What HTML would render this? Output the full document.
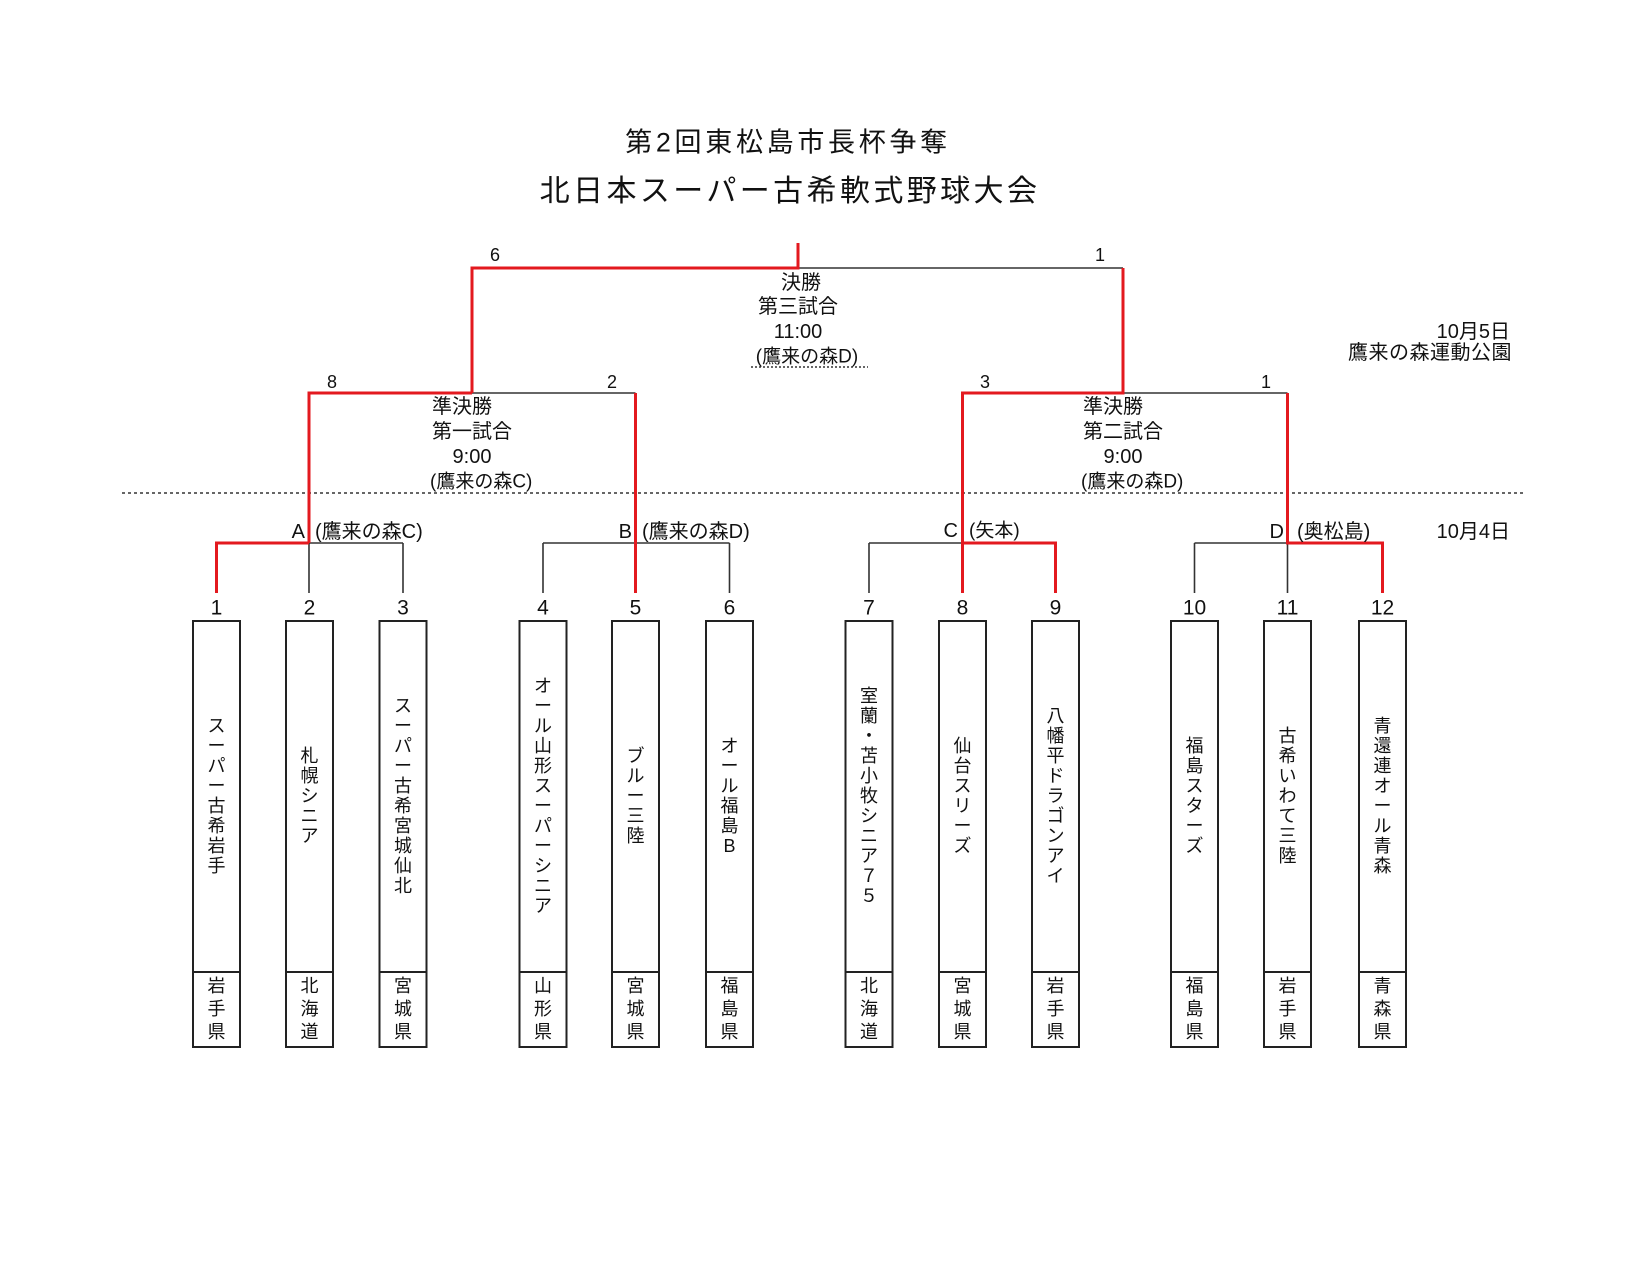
<!DOCTYPE html>
<html><head><meta charset="utf-8">
<style>
html,body{margin:0;padding:0;background:#fff;}
#pg{position:relative;width:1650px;height:1275px;background:#fff;overflow:hidden;font-family:"Liberation Sans","Noto Sans CJK JP",sans-serif;color:#111;}
.t{position:absolute;white-space:nowrap;line-height:1;transform:translate(-50%,-50%);}
.l{position:absolute;white-space:nowrap;line-height:1;transform:translateY(-50%);}
.r{position:absolute;white-space:nowrap;line-height:1;transform:translate(-100%,-50%);}
.v{position:absolute;width:47px;text-align:center;font-size:18px;line-height:20px;}
.p{position:absolute;width:47px;text-align:center;font-size:18px;line-height:23px;top:975px;}
.n{font-size:21px;}
.s{font-size:18px;}
.m{font-size:20px;}
svg{position:absolute;left:0;top:0;}
</style></head><body>
<div id="pg">
<svg width="1650" height="1275" viewBox="0 0 1650 1275">
 <g fill="none" stroke="#333" stroke-width="1.6">
  <path d="M798 268 H1123"/>
  <path d="M472 393 H635.5"/>
  <path d="M1123 393 H1287.5"/>
  <path d="M309 543 H403 M309 543 V593 M403 543 V593"/>
  <path d="M543 543 H729.5 M543 543 V593 M729.5 543 V593"/>
  <path d="M869 543 H962.5 M869 543 V593"/>
  <path d="M1194.5 543 H1287.5 M1194.5 543 V593 M1287.5 543 V593"/>
  <path d="M122 493 H1523" stroke-dasharray="3 3" stroke-width="1.5"/>
  <path d="M751 367 H868" stroke-dasharray="2 2" stroke-width="1.5"/>
 </g>
 <g fill="none" stroke="#e3191f" stroke-width="3">
  <path d="M798 243 V268 H472 V393"/>
  <path d="M309 543 V393 H472"/>
  <path d="M635.5 393 V593"/>
  <path d="M216.5 593 V543 H309"/>
  <path d="M1123 268 V393 H962.5 V593"/>
  <path d="M962.5 543 H1055.5 V593"/>
  <path d="M1287.5 393 V543 H1382.5 V593"/>
 </g>
 <g fill="none" stroke="#222" stroke-width="2">
  <rect x="193" y="621" width="47" height="426"/><path d="M193 972 H240"/>
  <rect x="286" y="621" width="47" height="426"/><path d="M286 972 H333"/>
  <rect x="379.5" y="621" width="47" height="426"/><path d="M379.5 972 H426.5"/>
  <rect x="519.5" y="621" width="47" height="426"/><path d="M519.5 972 H566.5"/>
  <rect x="612" y="621" width="47" height="426"/><path d="M612 972 H659"/>
  <rect x="706" y="621" width="47" height="426"/><path d="M706 972 H753"/>
  <rect x="845.5" y="621" width="47" height="426"/><path d="M845.5 972 H892.5"/>
  <rect x="939" y="621" width="47" height="426"/><path d="M939 972 H986"/>
  <rect x="1032" y="621" width="47" height="426"/><path d="M1032 972 H1079"/>
  <rect x="1171" y="621" width="47" height="426"/><path d="M1171 972 H1218"/>
  <rect x="1264" y="621" width="47" height="426"/><path d="M1264 972 H1311"/>
  <rect x="1359" y="621" width="47" height="426"/><path d="M1359 972 H1406"/>
 </g>
</svg>

<!-- Titles -->
<div class="t" style="left:788px;top:143px;font-size:27px;letter-spacing:3.7px;">第2回東松島市長杯争奪</div>
<div class="t" style="left:790px;top:192px;font-size:30px;letter-spacing:3.4px;">北日本スーパー古希軟式野球大会</div>

<!-- Final -->
<div class="t s" style="left:495px;top:255px;">6</div>
<div class="t s" style="left:1100px;top:255px;">1</div>
<div class="t m" style="left:801px;top:283px;">決勝</div>
<div class="t m" style="left:798px;top:307px;">第三試合</div>
<div class="t m" style="left:798px;top:332px;">11:00</div>
<div class="t" style="left:807px;top:357px;font-size:19px;">(鷹来の森D)</div>

<div class="r m" style="left:1510px;top:332px;">10月5日</div>
<div class="r m" style="left:1512px;top:353px;letter-spacing:0.5px;">鷹来の森運動公園</div>

<!-- Semifinal left -->
<div class="t s" style="left:332px;top:382px;">8</div>
<div class="t s" style="left:612px;top:382px;">2</div>
<div class="l m" style="left:432px;top:407px;">準決勝</div>
<div class="l m" style="left:432px;top:432px;">第一試合</div>
<div class="t m" style="left:472px;top:457px;">9:00</div>
<div class="l" style="left:430px;top:482px;font-size:19px;">(鷹来の森C)</div>

<!-- Semifinal right -->
<div class="t s" style="left:985px;top:382px;">3</div>
<div class="t s" style="left:1266px;top:382px;">1</div>
<div class="l m" style="left:1083px;top:407px;">準決勝</div>
<div class="l m" style="left:1083px;top:432px;">第二試合</div>
<div class="t m" style="left:1123px;top:457px;">9:00</div>
<div class="l" style="left:1081px;top:482px;font-size:19px;">(鷹来の森D)</div>

<!-- Group labels -->
<div class="r m" style="left:305px;top:532px;">A</div>
<div class="l m" style="left:315px;top:532px;">(鷹来の森C)</div>
<div class="r m" style="left:632px;top:532px;">B</div>
<div class="l m" style="left:642px;top:532px;">(鷹来の森D)</div>
<div class="r m" style="left:958px;top:531px;">C</div>
<div class="l" style="left:969px;top:531px;font-size:19px;">(矢本)</div>
<div class="r m" style="left:1284px;top:532px;">D</div>
<div class="l m" style="left:1297px;top:532px;">(奥松島)</div>
<div class="r m" style="left:1510px;top:532px;">10月4日</div>

<!-- Numbers -->
<div class="t n" style="left:216.5px;top:608px;">1</div>
<div class="t n" style="left:309.5px;top:608px;">2</div>
<div class="t n" style="left:403px;top:608px;">3</div>
<div class="t n" style="left:543px;top:608px;">4</div>
<div class="t n" style="left:635.5px;top:608px;">5</div>
<div class="t n" style="left:729.5px;top:608px;">6</div>
<div class="t n" style="left:869px;top:608px;">7</div>
<div class="t n" style="left:962.5px;top:608px;">8</div>
<div class="t n" style="left:1055.5px;top:608px;">9</div>
<div class="t n" style="left:1194.5px;top:608px;">10</div>
<div class="t n" style="left:1287.5px;top:608px;">11</div>
<div class="t n" style="left:1382.5px;top:608px;">12</div>

<!-- Team names -->
<div class="v" style="left:193px;top:716px;">ス<br>ー<br>パ<br>ー<br>古<br>希<br>岩<br>手</div>
<div class="v" style="left:286px;top:746px;">札<br>幌<br>シ<br>ニ<br>ア</div>
<div class="v" style="left:379.5px;top:696px;">ス<br>ー<br>パ<br>ー<br>古<br>希<br>宮<br>城<br>仙<br>北</div>
<div class="v" style="left:519.5px;top:676px;">オ<br>ー<br>ル<br>山<br>形<br>ス<br>ー<br>パ<br>ー<br>シ<br>ニ<br>ア</div>
<div class="v" style="left:612px;top:746px;">ブ<br>ル<br>ー<br>三<br>陸</div>
<div class="v" style="left:706px;top:736px;">オ<br>ー<br>ル<br>福<br>島<br>B</div>
<div class="v" style="left:845.5px;top:686px;">室<br>蘭<br>・<br>苫<br>小<br>牧<br>シ<br>ニ<br>ア<br>７<br>５</div>
<div class="v" style="left:939px;top:736px;">仙<br>台<br>ス<br>リ<br>ー<br>ズ</div>
<div class="v" style="left:1032px;top:706px;">八<br>幡<br>平<br>ド<br>ラ<br>ゴ<br>ン<br>ア<br>イ</div>
<div class="v" style="left:1171px;top:736px;">福<br>島<br>ス<br>タ<br>ー<br>ズ</div>
<div class="v" style="left:1264px;top:726px;">古<br>希<br>い<br>わ<br>て<br>三<br>陸</div>
<div class="v" style="left:1359px;top:716px;">青<br>還<br>連<br>オ<br>ー<br>ル<br>青<br>森</div>

<!-- Prefectures -->
<div class="p" style="left:193px;">岩<br>手<br>県</div>
<div class="p" style="left:286px;">北<br>海<br>道</div>
<div class="p" style="left:379.5px;">宮<br>城<br>県</div>
<div class="p" style="left:519.5px;">山<br>形<br>県</div>
<div class="p" style="left:612px;">宮<br>城<br>県</div>
<div class="p" style="left:706px;">福<br>島<br>県</div>
<div class="p" style="left:845.5px;">北<br>海<br>道</div>
<div class="p" style="left:939px;">宮<br>城<br>県</div>
<div class="p" style="left:1032px;">岩<br>手<br>県</div>
<div class="p" style="left:1171px;">福<br>島<br>県</div>
<div class="p" style="left:1264px;">岩<br>手<br>県</div>
<div class="p" style="left:1359px;">青<br>森<br>県</div>
</div>
</body></html>
